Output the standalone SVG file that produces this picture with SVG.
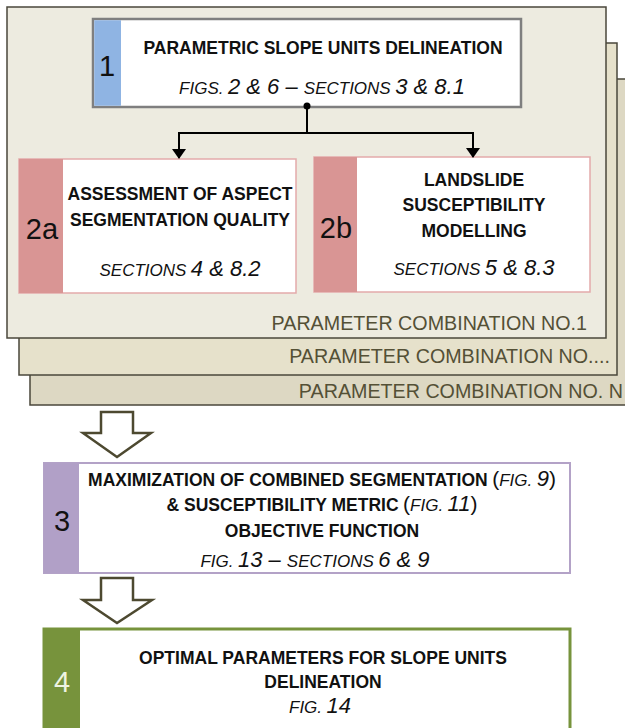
<svg xmlns="http://www.w3.org/2000/svg" width="625" height="728" viewBox="0 0 625 728">
<defs>
<style>
text{font-family:"Liberation Sans",Arial,Helvetica,sans-serif;fill:#111;}
.b{font-weight:bold;font-size:17.5px;}
.sc{font-style:italic;font-size:17px;}
.n{font-style:italic;font-size:22px;}
.p{font-size:21px;}
.lab{font-size:29px;}
.plab{font-size:19.7px;fill:#545036;}
.panel{stroke:#4a473b;stroke-width:1.5;}
.hollow{fill:#fff;stroke:#4d4930;stroke-width:2.5;stroke-linejoin:miter;}
.conn{fill:none;stroke:#000;stroke-width:2;}
</style>
<marker id="ah" viewBox="0 0 10 14" refX="9" refY="7" markerWidth="10" markerHeight="14" markerUnits="userSpaceOnUse" orient="auto">
<path d="M0,0 L10,7 L0,14 Z" fill="#000"/>
</marker>
</defs>
<rect width="625" height="728" fill="#fff"/>

<g id="panel3">
<rect class="panel" x="30" y="79" width="610" height="326" fill="#DDD8C3"/>
<text class="plab" x="623" y="398" text-anchor="end">PARAMETER COMBINATION NO. N</text>
</g>
<g id="panel2">
<rect class="panel" x="19" y="43" width="598" height="332" fill="#E6E1CB"/>
<text class="plab" x="610" y="363" text-anchor="end">PARAMETER COMBINATION NO....</text>
</g>
<g id="panel1">
<rect class="panel" x="7" y="7" width="599" height="331" fill="#EDEBE0"/>
<text class="plab" x="587" y="330" text-anchor="end">PARAMETER COMBINATION NO.1</text>
</g>

<g id="node1">
<rect x="93" y="19" width="428" height="88" fill="#fff" stroke="#7f7f7f" stroke-width="2.5"/>
<rect x="94.25" y="20.25" width="26.75" height="85.5" fill="#8FB4E3"/>
<text class="lab" x="107" y="76" text-anchor="middle">1</text>
<text class="b" x="323" y="54" text-anchor="middle">PARAMETRIC SLOPE UNITS DELINEATION</text>
<text x="322" y="94" text-anchor="middle"><tspan class="sc">FIGS.</tspan> <tspan class="n">2 &amp; 6 – </tspan><tspan class="sc">SECTIONS</tspan> <tspan class="n">3 &amp; 8.1</tspan></text>
</g>

<g id="node2a">
<rect x="19" y="159" width="277" height="134" fill="#fff" stroke="#E3AAAA" stroke-width="1.5"/>
<rect x="19" y="159" width="44" height="134" fill="#D99594"/>
<text class="lab" x="42" y="239" text-anchor="middle">2a</text>
<text class="b" x="180" y="200" text-anchor="middle">ASSESSMENT OF ASPECT</text>
<text class="b" x="180" y="226" text-anchor="middle">SEGMENTATION QUALITY</text>
<text x="180" y="276" text-anchor="middle"><tspan class="sc">SECTIONS</tspan> <tspan class="n">4 &amp; 8.2</tspan></text>
</g>

<g id="node2b">
<rect x="314" y="157" width="276" height="135" fill="#fff" stroke="#E3AAAA" stroke-width="1.5"/>
<rect x="314" y="157" width="43" height="135" fill="#D99594"/>
<text class="lab" x="336" y="238" text-anchor="middle">2b</text>
<text class="b" x="474" y="186" text-anchor="middle">LANDSLIDE</text>
<text class="b" x="474" y="211" text-anchor="middle">SUSCEPTIBILITY</text>
<text class="b" x="474" y="237" text-anchor="middle">MODELLING</text>
<text x="474" y="275" text-anchor="middle"><tspan class="sc">SECTIONS</tspan> <tspan class="n">5 &amp; 8.3</tspan></text>
</g>

<g id="node3">
<rect x="44" y="463" width="526" height="110" fill="#fff" stroke="#B3A2C7" stroke-width="2"/>
<rect x="44" y="463" width="35" height="110" fill="#B1A0C7"/>
<text class="lab" x="62" y="531" text-anchor="middle">3</text>
<text x="322" y="486" text-anchor="middle"><tspan class="b">MAXIMIZATION OF COMBINED SEGMENTATION</tspan> <tspan class="p">(</tspan><tspan class="sc">FIG.</tspan> <tspan class="n">9</tspan><tspan class="p">)</tspan></text>
<text x="322" y="511" text-anchor="middle"><tspan class="b">&amp; SUSCEPTIBILITY METRIC</tspan> <tspan class="p">(</tspan><tspan class="sc">FIG.</tspan> <tspan class="n">11</tspan><tspan class="p">)</tspan></text>
<text class="b" x="322" y="537" text-anchor="middle">OBJECTIVE FUNCTION</text>
<text x="315" y="567" text-anchor="middle"><tspan class="sc">FIG.</tspan> <tspan class="n">13 – </tspan><tspan class="sc">SECTIONS</tspan> <tspan class="n">6 &amp; 9</tspan></text>
</g>

<g id="node4">
<rect x="44" y="629" width="526" height="110" fill="#fff" stroke="#77933C" stroke-width="3"/>
<rect x="44" y="629" width="36" height="110" fill="#77933C"/>
<text class="lab" x="62" y="692" text-anchor="middle" style="fill:#EEF3E2">4</text>
<text class="b" x="323" y="664" text-anchor="middle">OPTIMAL PARAMETERS FOR SLOPE UNITS</text>
<text class="b" x="323" y="688" text-anchor="middle">DELINEATION</text>
<text x="320" y="713" text-anchor="middle"><tspan class="sc">FIG.</tspan> <tspan class="n">14</tspan></text>
</g>

<g id="connectors">
<circle cx="307" cy="106" r="3.5" fill="#000"/>
<path class="conn" d="M307,106 V133 M178,133 H474"/>
<path class="conn" d="M179,133 V158" marker-end="url(#ah)"/>
<path class="conn" d="M473,133 V157" marker-end="url(#ah)"/>
<polygon class="hollow" points="101,412 133,412 133,433 151,433 117,457 83,433 101,433"/>
<polygon class="hollow" points="101,578 133,578 133,600 152,600 117,623 83,600 101,600"/>
</g>
</svg>
